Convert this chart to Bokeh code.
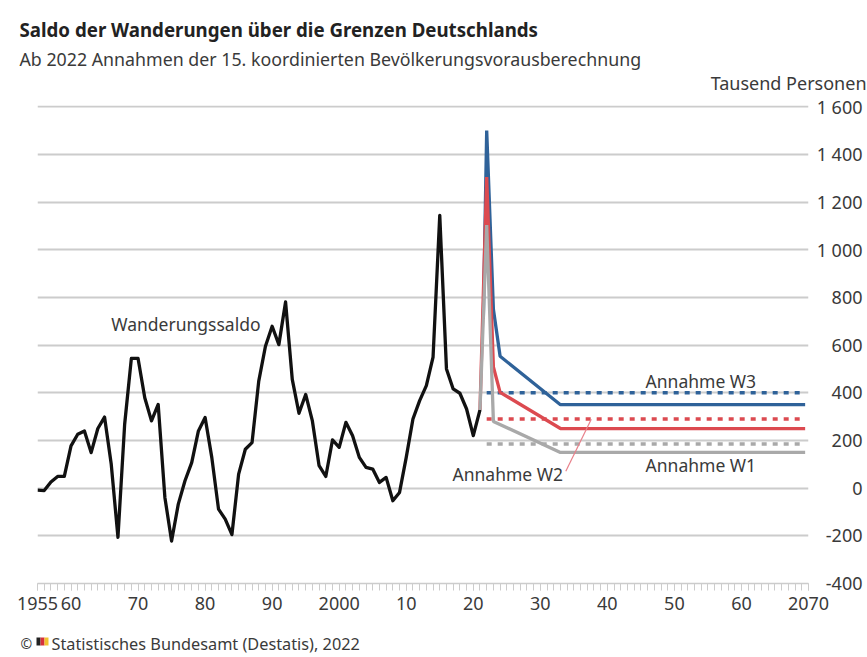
from bokeh.plotting import figure
from bokeh.models import Range1d, FixedTicker, Label, ColumnDataSource
from bokeh.core.properties import value
from bokeh.embed import file_html
from bokeh.resources import INLINE

TITLE = "Saldo der Wanderungen über die Grenzen Deutschlands"
SUBTITLE = "Ab 2022 Annahmen der 15. koordinierten Bevölkerungsvorausberechnung"
UNIT = "Tausend Personen"
SOURCE = "Statistisches Bundesamt (Destatis), 2022"

hist_years = list(range(1955, 2022))
hist_values = [-8, -10, 26, 49, 49, 177, 226, 240, 149, 250, 298, 100, -206, 268, 544, 544, 379, 282, 351,
               -39, -222, -67, 31, 107, 240, 296, 128, -88, -130, -195, 59, 163, 191, 449, 595, 679, 602,
               781, 456, 314, 393, 282, 94, 49, 202, 171, 276, 220, 129, 87, 80, 24, 45, -53, -18, 129,
               290, 367, 430, 550, 1144, 500, 416, 398, 332, 220, 328]

w3_years = [2021.5, 2022, 2023, 2024, 2033, 2069.5]
w3_values = [711, 1500, 750, 553, 350, 350]
w2_years = [2021, 2022, 2023, 2024, 2033, 2069.5]
w2_values = [328, 1305, 508, 402, 250, 250]
w1_years = [2021, 2022, 2023, 2033, 2069.5]
w1_values = [328, 1103, 280, 150, 150]

dot_years = [2022, 2069.5]
w3_level = [400, 400]
w2_level = [290, 290]
w1_level = [185, 185]

leader_years = [2033.8, 2037.6]
leader_values = [71, 289]

y_ticks = [-400, -200, 0, 200, 400, 600, 800, 1000, 1200, 1400, 1600]
y_labels = ["-400", "-200", "0", "200", "400", "600", "800", "1 000", "1 200", "1 400", "1 600"]
x_ticks = [1955, 1960, 1970, 1980, 1990, 2000, 2010, 2020, 2030, 2040, 2050, 2060, 2070]
x_labels = ["1955", "60", "70", "80", "90", "2000", "10", "20", "30", "40", "50", "60", "2070"]
all_years = list(range(1955, 2071))

FONT = "Noto Sans"
INK = "#3a3a3a"
GRID = "#cccccc"
FRAME_LEFT, FRAME_BOTTOM, FRAME_RIGHT, FRAME_TOP = 37, 583, 808, 105
X0, X1, Y0, Y1 = 1955, 2070, -400, 1605

p = figure(width=866, height=656, output_backend="svg", toolbar_location=None,
           x_range=Range1d(X0, X1), y_range=Range1d(Y0, Y1),
           min_border_left=FRAME_LEFT, min_border_right=866 - FRAME_RIGHT,
           min_border_top=FRAME_TOP, min_border_bottom=656 - FRAME_BOTTOM)
p.outline_line_color = None
p.xgrid.visible = False
p.yaxis.visible = False
p.ygrid.ticker = FixedTicker(ticks=y_ticks[1:])
p.ygrid.grid_line_color = GRID
p.ygrid.grid_line_width = 2

ax = p.xaxis[0]
ax.ticker = FixedTicker(ticks=x_ticks, minor_ticks=all_years)
ax.major_label_overrides = dict(zip(x_ticks, x_labels))
ax.axis_line_color = GRID
ax.axis_line_width = 1.5
ax.major_tick_line_color = GRID
ax.minor_tick_line_color = GRID
ax.major_tick_in = 0
ax.major_tick_out = 7
ax.minor_tick_in = 0
ax.minor_tick_out = 7
ax.major_label_standoff = 6
ax.major_label_text_font = FONT
ax.major_label_text_font_size = "18px"
ax.major_label_text_color = INK

BLUE, RED, GREY = "#2f6299", "#dc4a50", "#a9a9a9"
p.line(hist_years, hist_values, line_color="#111111", line_width=3.3, line_join="round")
p.line(dot_years, w3_level, line_color=BLUE, line_width=3.5, line_dash="5 6")
p.line(dot_years, w2_level, line_color=RED, line_width=3.5, line_dash="5 6")
p.line(dot_years, w1_level, line_color=GREY, line_width=3.5, line_dash="5 6")
p.line(w3_years, w3_values, line_color=BLUE, line_width=3.3, line_join="bevel")
p.line(w2_years, w2_values, line_color=RED, line_width=3.3, line_join="bevel")
p.line(w1_years, w1_values, line_color=GREY, line_width=3.3, line_join="bevel")
p.line(leader_years, leader_values, line_color="#e8808a", line_width=1.2)

tick_src = ColumnDataSource(dict(x=[X1] * len(y_ticks), y=y_ticks, t=y_labels))
p.text(x="x", y="y", text="t", source=tick_src, level="overlay", x_offset=54, text_align="right",
       text_baseline="middle", text_font=value(FONT), text_font_size="18px", text_color=INK)


def note(text, x, y):
    p.add_layout(Label(x=x, y=y, text=text, text_font=FONT, text_font_size="17.5px",
                       text_color=INK, text_baseline="middle"))


note("Wanderungssaldo", 1966, 688)
note("Annahme W3", 2045.7, 449)
note("Annahme W1", 2045.7, 96)
note("Annahme W2", 2016.9, 59)


def page_note(text, px, py, size="17.5px", color=INK, style="normal", align="left"):
    p.text(x=[X0], y=[Y0], text=[text], level="overlay", x_offset=px - FRAME_LEFT, y_offset=py - FRAME_BOTTOM,
           text_font=value(FONT), text_font_size=size, text_color=color, text_font_style=style,
           text_align=align, text_baseline="middle")


page_note(TITLE, 19, 29, size="18.7px", style="bold", color="#222222")
page_note(SUBTITLE, 19, 58, size="17.8px")
page_note(UNIT, 866, 82, size="18px", align="right")
page_note("©", 20, 643, size="14px")
page_note(SOURCE, 51, 643, size="16.3px")


def dx(px):
    return X0 + (px - FRAME_LEFT) * (X1 - X0) / (FRAME_RIGHT - FRAME_LEFT)


def dy(py):
    return Y0 + (FRAME_BOTTOM - py) * (Y1 - Y0) / (FRAME_BOTTOM - FRAME_TOP)


for left, right, col in [(36, 40, "#222222"), (40, 44, "#d6303a"), (44, 48, "#f2c230")]:
    p.quad(left=[dx(left)], right=[dx(right)], top=[dy(637)], bottom=[dy(645)], level="overlay",
           fill_color=col, line_color=None)

open("out.html", "w").write(file_html(p, INLINE))
